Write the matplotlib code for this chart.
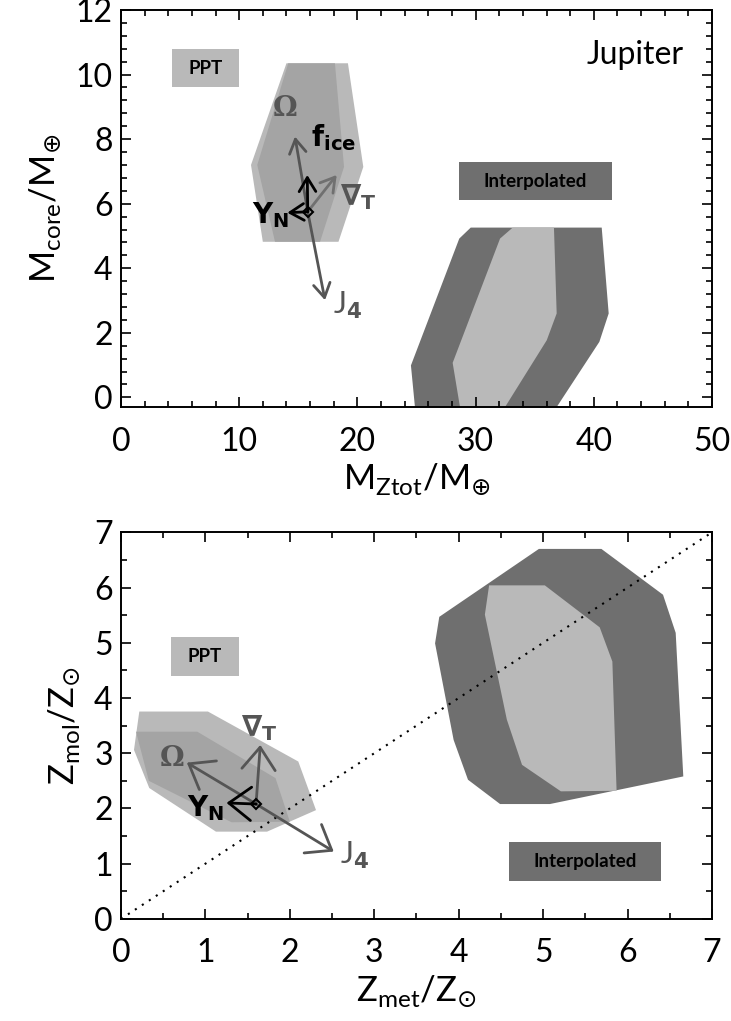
import matplotlib
matplotlib.use('Agg')
import matplotlib.pyplot as plt
from matplotlib.patches import Polygon, Rectangle

plt.rcParams['font.family'] = ['Lato', 'DejaVu Sans']
plt.rcParams['mathtext.fontset'] = 'dejavusans'

LIGHT = '#b9b9b9'
MID = '#a4a4a4'
DARK = '#6f6f6f'
GREY = '#555555'

# ---- top panel data (M_Ztot, M_core) ----
ppt_outer_top = [(14.0, 10.35), (19.2, 10.35), (20.5, 7.14), (18.4, 4.82), (12.0, 4.82), (11.0, 7.2)]
ppt_inner_top = [(14.15, 10.35), (18.1, 10.35), (18.87, 7.14), (16.84, 4.82), (13.03, 4.82), (11.53, 7.2)]
interp_outer_top = [(29.59, 5.26), (40.67, 5.26), (41.26, 2.6), (40.47, 1.72), (36.86, -0.3),
                    (24.87, -0.3), (24.53, 0.99), (28.62, 4.92)]
interp_inner_top = [(33.14, 5.26), (36.63, 5.26), (36.86, 2.6), (36.02, 1.77), (32.49, -0.3),
                    (28.68, -0.3), (28.06, 1.07), (32.07, 4.92)]
center_top = (15.8, 5.75)
tips_top = {'omega': (14.72, 8.08), 'j4': (17.26, 3.01), 'fice': (15.76, 6.89),
            'yn': (14.07, 5.72), 'gradt': (18.25, 6.89)}

# ---- bottom panel data (Z_met, Z_mol) ----
ppt_outer_bot = [(0.217, 3.755), (1.03, 3.755), (2.10, 2.85), (2.31, 1.97), (1.73, 1.58),
                 (1.125, 1.58), (0.335, 2.37), (0.154, 3.06)]
ppt_inner_bot = [(0.178, 3.39), (0.904, 3.39), (1.83, 2.55), (2.0, 1.76), (1.31, 1.75), (0.33, 2.5)]
interp_outer_bot = [(3.77, 5.47), (4.95, 6.70), (5.69, 6.70), (6.42, 5.87), (6.57, 5.18), (6.66, 2.58),
                    (5.08, 2.08), (4.49, 2.08), (4.11, 2.52), (3.94, 3.24), (3.72, 4.99)]
interp_inner_bot = [(4.36, 6.04), (5.02, 6.04), (5.67, 5.28), (5.82, 4.66), (5.87, 2.32), (5.21, 2.31),
                    (4.75, 2.79), (4.57, 3.61), (4.31, 5.51)]
center_bot = (1.6, 2.08)
tips_bot = {'omega': (0.78, 2.83), 'j4': (2.52, 1.22), 'gradt': (1.65, 3.15), 'yn': (1.25, 2.10)}

fig = plt.figure(figsize=(7.31, 10.21), dpi=100)
ax1 = fig.add_axes([0.1655, 0.6013, 0.8085, 0.3889])
ax2 = fig.add_axes([0.1655, 0.1000, 0.8085, 0.3786])


def style(ax):
    for s in ax.spines.values():
        s.set_linewidth(1.4)
    ax.tick_params(which='both', direction='in', top=True, right=True, width=1.2)
    ax.tick_params(which='major', length=7)
    ax.tick_params(which='minor', length=4.5)
    ax.tick_params(axis='x', pad=14, labelsize=23)
    ax.tick_params(axis='y', pad=6, labelsize=23)


def arrow(ax, start, end, color, hl, hw, lw=2):
    ax.annotate('', xy=end, xytext=start,
                arrowprops=dict(arrowstyle='->,head_length=%g,head_width=%g' % (hl, hw),
                                color=color, lw=lw, shrinkA=0, shrinkB=0, mutation_scale=20),
                zorder=5)


# top panel
ax = ax1
ax.add_patch(Polygon(ppt_outer_top, closed=True, fc=LIGHT, ec='none'))
ax.add_patch(Polygon(ppt_inner_top, closed=True, fc=MID, ec='none'))
ax.add_patch(Polygon(interp_outer_top, closed=True, fc=DARK, ec='none'))
ax.add_patch(Polygon(interp_inner_top, closed=True, fc=LIGHT, ec='none'))
ax.add_patch(Rectangle((4.3, 9.62), 5.7, 1.18, fc=LIGHT, ec='none'))
ax.text(7.15, 10.2, 'PPT', ha='center', va='center', fontsize=13.5, fontweight='bold')
ax.add_patch(Rectangle((28.6, 6.1), 12.9, 1.18, fc=DARK, ec='none'))
ax.text(35.05, 6.69, 'Interpolated', ha='center', va='center', fontsize=13.5, fontweight='bold')
ax.text(47.6, 10.6, 'Jupiter', ha='right', va='center', fontsize=23)

hl, hw = 0.5, 0.3
arrow(ax, center_top, tips_top['omega'], GREY, hl, hw)
arrow(ax, center_top, tips_top['j4'], GREY, hl, hw)
arrow(ax, center_top, tips_top['gradt'], '#707070', hl, hw)
arrow(ax, center_top, tips_top['fice'], 'black', hl, hw)
arrow(ax, center_top, tips_top['yn'], 'black', hl, hw)
ax.plot(*center_top, marker='D', ms=5, mfc='none', mec='black', mew=1.5, zorder=6)
ax.text(13.87, 8.96, '\u03a9', ha='center', va='center', fontsize=20, color=GREY,
        family='DejaVu Serif', fontweight='bold')
ax.text(16.1, 8.05, r'$\mathbf{f_{ice}}$', ha='left', va='center', fontsize=20)
ax.text(18.55, 6.2, r'$\mathbf{\nabla_{T}}$', ha='left', va='center', fontsize=21, color=GREY)
ax.text(11.1, 5.65, r'$\mathbf{Y_{N}}$', ha='left', va='center', fontsize=20)
ax.text(17.95, 2.85, r'$\mathregular{J}_{\mathbf{4}}$', ha='left', va='center', fontsize=22, color=GREY)

ax.set_xlim(0, 50)
ax.set_ylim(-0.3, 12.0)
ax.set_xticks([0, 10, 20, 30, 40, 50])
ax.set_xticks([i * 2 for i in range(26)], minor=True)
ax.set_yticks([0, 2, 4, 6, 8, 10, 12])
ax.set_yticks([i * 0.4 for i in range(31)], minor=True)
ax.set_xlabel(r'M$_{\mathregular{Ztot}}$/M$_{\oplus}$', fontsize=25, labelpad=4)
ax.set_ylabel(r'M$_{\mathregular{core}}$/M$_{\oplus}$', fontsize=25, labelpad=9)
style(ax)

# bottom panel
ax = ax2
ax.add_patch(Polygon(ppt_outer_bot, closed=True, fc=LIGHT, ec='none'))
ax.add_patch(Polygon(ppt_inner_bot, closed=True, fc=MID, ec='none'))
ax.add_patch(Polygon(interp_outer_bot, closed=True, fc=DARK, ec='none'))
ax.add_patch(Polygon(interp_inner_bot, closed=True, fc=LIGHT, ec='none'))
ax.plot([0, 7], [0, 7], color='black', ls=(0, (1, 3)), lw=1.5, zorder=4)
ax.add_patch(Rectangle((0.59, 4.4), 0.81, 0.7, fc=LIGHT, ec='none'))
ax.text(0.995, 4.75, 'PPT', ha='center', va='center', fontsize=13.5, fontweight='bold')
ax.add_patch(Rectangle((4.6, 0.68), 1.8, 0.72, fc=DARK, ec='none'))
ax.text(5.5, 1.04, 'Interpolated', ha='center', va='center', fontsize=13.5, fontweight='bold')

hl, hw = 0.8, 0.6
arrow(ax, center_bot, tips_bot['omega'], GREY, hl, hw)
arrow(ax, center_bot, tips_bot['j4'], GREY, hl, hw)
arrow(ax, center_bot, tips_bot['gradt'], GREY, hl, hw)
arrow(ax, center_bot, tips_bot['yn'], 'black', hl, hw)
ax.plot(*center_bot, marker='D', ms=5, mfc='none', mec='black', mew=1.5, zorder=6)
ax.text(0.60, 2.91, '\u03a9', ha='center', va='center', fontsize=20, color=GREY,
        family='DejaVu Serif', fontweight='bold')
ax.text(1.42, 3.45, r'$\mathbf{\nabla_{T}}$', ha='left', va='center', fontsize=21, color=GREY)
ax.text(0.78, 2.0, r'$\mathbf{Y_{N}}$', ha='left', va='center', fontsize=20)
ax.text(2.6, 1.15, r'$\mathregular{J}_{\mathbf{4}}$', ha='left', va='center', fontsize=22, color=GREY)

ax.set_xlim(0, 7)
ax.set_ylim(0, 7)
ax.set_xticks(range(8))
ax.set_xticks([i * 0.5 for i in range(15)], minor=True)
ax.set_yticks(range(8))
ax.set_yticks([i * 0.5 for i in range(15)], minor=True)
ax.set_xlabel(r'Z$_{\mathregular{met}}$/Z$_{\odot}$', fontsize=25, labelpad=4)
ax.set_ylabel(r'Z$_{\mathregular{mol}}$/Z$_{\odot}$', fontsize=25, labelpad=9)
style(ax)

fig.savefig('out.png', dpi=100)
